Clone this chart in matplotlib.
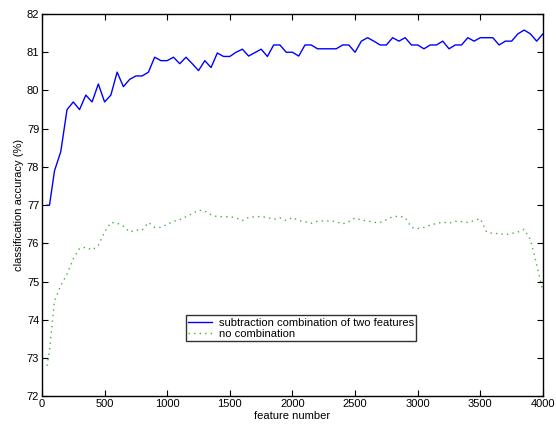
import matplotlib
matplotlib.use("Agg")
import matplotlib.pyplot as plt

plt.rcParams['font.family'] = ['Liberation Sans', 'DejaVu Sans']

# feature numbers (first two samples are denser)
features = [40, 60] + list(range(100, 4001, 50))

subtraction_acc = [
    77.0, 77.0, 77.9, 78.4, 79.5, 79.7, 79.5, 79.88, 79.7, 80.17,
    79.7, 79.88, 80.48, 80.1, 80.29, 80.38, 80.38, 80.48, 80.87, 80.78,
    80.78, 80.87, 80.7, 80.87, 80.7, 80.52, 80.78, 80.6, 80.98, 80.89,
    80.89, 81.0, 81.08, 80.9, 80.99, 81.08, 80.89, 81.19, 81.19, 81.0,
    81.0, 80.9, 81.19, 81.19, 81.09, 81.09, 81.09, 81.09, 81.19, 81.19,
    81.0, 81.29, 81.38, 81.29, 81.19, 81.19, 81.38, 81.29, 81.38, 81.19,
    81.19, 81.09, 81.19, 81.19, 81.29, 81.09, 81.19, 81.19, 81.38, 81.29,
    81.38, 81.38, 81.38, 81.19, 81.29, 81.29, 81.48, 81.58, 81.48, 81.29,
    81.48,
]

no_comb_acc = [
    72.8, 73.2, 74.5, 74.9, 75.2, 75.6, 75.87, 75.9, 75.83, 75.95,
    76.3, 76.55, 76.53, 76.45, 76.3, 76.35, 76.35, 76.55, 76.42, 76.42,
    76.5, 76.58, 76.62, 76.7, 76.78, 76.87, 76.85, 76.75, 76.7, 76.7,
    76.7, 76.67, 76.6, 76.68, 76.7, 76.7, 76.68, 76.63, 76.67, 76.6,
    76.68, 76.6, 76.57, 76.53, 76.58, 76.59, 76.59, 76.57, 76.51, 76.57,
    76.67, 76.61, 76.59, 76.55, 76.55, 76.62, 76.7, 76.71, 76.68, 76.42,
    76.39, 76.42, 76.48, 76.52, 76.56, 76.53, 76.58, 76.57, 76.55, 76.6,
    76.65, 76.3, 76.26, 76.26, 76.23, 76.26, 76.3, 76.37, 76.1, 75.45,
    74.75,
]

xticks = list(range(0, 4001, 500))
yticks = list(range(72, 83))

fig = plt.figure(figsize=(5.56, 4.24), dpi=100)
ax = fig.add_axes([0.0755, 0.065, 0.901, 0.902])

ax.plot(features, subtraction_acc, color='b', lw=1.0,
        label='subtraction combination of two features')
ax.plot(features, no_comb_acc, color='#44b044', lw=1.0, dashes=(1, 3),
        label='no combination')

ax.set_xlim(0, 4000)
ax.set_ylim(72, 82)
ax.set_xticks(xticks)
ax.set_yticks(yticks)
ax.tick_params(direction='in', top=True, right=True, length=4, width=0.8,
               labelsize=8, pad=2)
for s in ax.spines.values():
    s.set_linewidth(1.0)

ax.set_xlabel('feature number', fontsize=8, labelpad=1)
ax.set_ylabel('classification accuracy (%)', fontsize=8, labelpad=2)

leg = ax.legend(loc='lower left', bbox_to_anchor=(0.287, 0.145), fontsize=8,
                frameon=True, fancybox=False, borderpad=0.2, handlelength=2.2,
                handletextpad=0.6, labelspacing=0.1, borderaxespad=0)
leg.get_frame().set_edgecolor('black')
leg.get_frame().set_linewidth(1.0)

fig.savefig('out.png', dpi=100)
